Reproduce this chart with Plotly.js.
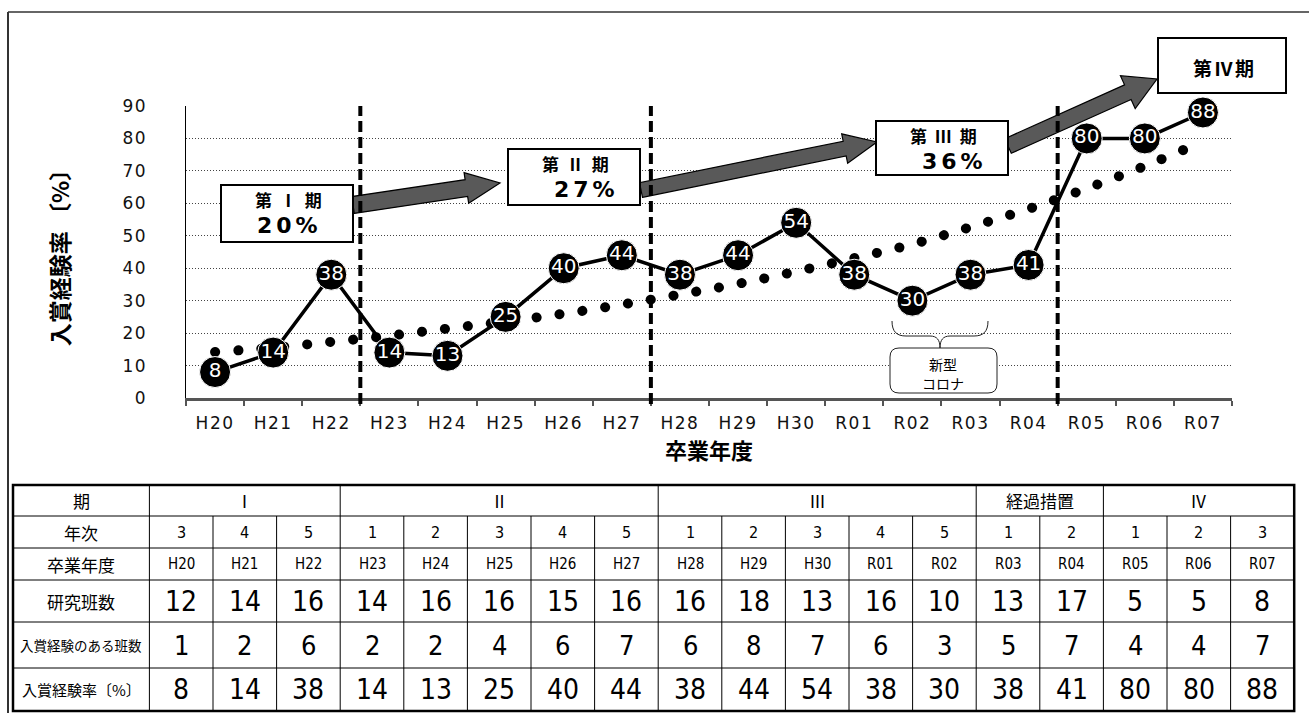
<!DOCTYPE html>
<html><head><meta charset="utf-8">
<script src="https://cdn.plot.ly/plotly-3.0.1.min.js"></script>
<style>
html,body{margin:0;padding:0;background:#fff;}
#chart{width:1309px;height:713px;}
.scatterlayer .trace:first-child path.js-line{stroke-linecap:round;}
.xtick text,.ytick text{letter-spacing:1.5px;}
</style></head><body><div id="chart"></div>
<script>
// ---- data ----
const years = ['H20','H21','H22','H23','H24','H25','H26','H27','H28','H29','H30','R01','R02','R03','R04','R05','R06','R07'];
const rate = [8,14,38,14,13,25,40,44,38,44,54,38,30,38,41,80,80,88];
const trend = [14.2,15.5,17.3,19.2,21.4,23.6,26.0,28.8,31.9,35.2,39.0,43.1,47.4,52.7,58.3,64.6,71.5,79.0];
const gradeYear = [3,4,5,1,2,3,4,5,1,2,3,4,5,1,2,1,2,3];
const teams = [12,14,16,14,16,16,15,16,16,18,13,16,10,13,17,5,5,8];
const awardedTeams = [1,2,6,2,2,4,6,7,6,8,7,6,3,5,7,4,4,7];
const periodNames = ['Ⅰ','Ⅱ','Ⅲ','経過措置','Ⅳ'];
const periodSpans = [3,5,5,2,3];
const periodBoxLabels = ['第 Ⅰ 期','第 Ⅱ 期','第 Ⅲ 期','第Ⅳ期'];
const periodBoxRates = ['20%','27%','36%'];
const rowLabels = ['期','年次','卒業年度','研究班数','入賞経験のある班数','入賞経験率〔%〕'];

// ---- pixel -> paper helpers (layout only) ----
const L=186, R=1232, T=106, B=398;
const fx = p => (p-L)/(R-L);
const fy = p => (B-p)/(B-T);
const P = (x,y) => fx(x)+','+fy(y);

const shapes = [];
const annotations = [];
function seg(x0,y0,x1,y1,w,color,dash){
  shapes.push({type:'line',xref:'paper',yref:'paper',x0:fx(x0),y0:fy(y0),x1:fx(x1),y1:fy(y1),
    line:{width:w,color:color||'#000',dash:dash||'solid'},layer:'above'});
}
function rect(x0,y0,x1,y1,w,fill){
  shapes.push({type:'rect',xref:'paper',yref:'paper',x0:fx(x0),y0:fy(y0),x1:fx(x1),y1:fy(y1),
    line:{width:w,color:'#000'},fillcolor:fill||'rgba(0,0,0,0)',layer:'above'});
}
function txt(x,y,text,size,family,extra){
  annotations.push(Object.assign({xref:'paper',yref:'paper',x:fx(x),y:fy(y),text:text,showarrow:false,
    xanchor:'center',yanchor:'middle',font:{size:size,family:family,color:'#000'}},extra||{}));
}
function arrow(x0,y0,x1,y1,bw,hw,hl){
  const dx=x1-x0, dy=y1-y0, len=Math.hypot(dx,dy);
  const ux=dx/len, uy=dy/len, nx=-uy, ny=ux;
  const bx=x1-ux*hl, by=y1-uy*hl;
  const pts=[[x0+nx*bw/2,y0+ny*bw/2],[bx+nx*bw/2,by+ny*bw/2],[bx+nx*hw/2,by+ny*hw/2],[x1,y1],
             [bx-nx*hw/2,by-ny*hw/2],[bx-nx*bw/2,by-ny*bw/2],[x0-nx*bw/2,y0-ny*bw/2]];
  shapes.push({type:'path',xref:'paper',yref:'paper',path:'M'+pts.map(p=>P(p[0],p[1])).join(' L')+' Z',
    fillcolor:'#595959',line:{color:'#000',width:1.2},layer:'above'});
}

const CJK = 'Noto Sans CJK JP';
const NARROW = 'Liberation Sans Narrow, DejaVu Sans Condensed, Liberation Sans, sans-serif';

// outer frame
seg(8,12,1309,12,1.5,'#333');
seg(8,12,8,713,2,'#333');

// period arrows
arrow(353,205,500,183,17,31,34);
arrow(641,190,877,142,15,30,33);
arrow(1008,146,1157,79,16,36,32);

// period boundary dashed lines (category boundaries)
[2.5,7.5,14.5].forEach(b=>{
  shapes.push({type:'line',xref:'x',yref:'paper',x0:b,x1:b,y0:fy(404),y1:fy(106),
    line:{color:'#000',width:4,dash:'11px,5px'},layer:'above'});
});

// period boxes
const boxes = [[221,185,353,242],[508,149,640,205],[876,121,1008,175]];
boxes.forEach((b,i)=>{
  rect(b[0],b[1],b[2],b[3],2,'#fff');
  const cx=(b[0]+b[2])/2;
  txt(cx+2, b[1]+14, '<b>'+periodBoxLabels[i]+'</b>', 17, CJK);
  txt(cx+(i===0?2:12), b[1]+40, '<b>'+periodBoxRates[i]+'</b>', 22, 'DejaVu Sans');
});
rect(1158,38,1286,93,2,'#fff');
txt(1224,67,'<b>'+periodBoxLabels[3]+'</b>',19,CJK);

// corona brace + rounded box
shapes.push({type:'path',xref:'paper',yref:'paper',line:{color:'#222',width:1},layer:'above',
  path:'M'+P(892,321)+' C'+P(892,332)+' '+P(897,336)+' '+P(906,336)+' L'+P(930,336)+' C'+P(937,336)+' '+P(940,340)+' '+P(940,348)+
       ' C'+P(940,340)+' '+P(943,336)+' '+P(950,336)+' L'+P(974,336)+' C'+P(983,336)+' '+P(988,332)+' '+P(988,321)});
(function(){const x0=890,x1=997,y0=348,y1=393,r=9;
 shapes.push({type:'path',xref:'paper',yref:'paper',line:{color:'#222',width:1},fillcolor:'#fff',layer:'above',
  path:'M'+P(x0+r,y0)+' L'+P(x1-r,y0)+' Q'+P(x1,y0)+' '+P(x1,y0+r)+' L'+P(x1,y1-r)+' Q'+P(x1,y1)+' '+P(x1-r,y1)+
       ' L'+P(x0+r,y1)+' Q'+P(x0,y1)+' '+P(x0,y1-r)+' L'+P(x0,y0+r)+' Q'+P(x0,y0)+' '+P(x0+r,y0)+' Z'});})();
txt(943,364,'新型',14,CJK);
txt(943,383,'コロナ',14,CJK);

// ---- table ----
const rowY = [485,516,548,580,622,668,711];
const tL = 13, c0 = 149.4, cw = 63.6, nC = years.length, tR = c0+cw*nC;
const colX = j => c0 + cw*j;
for(let r=1;r<rowY.length-1;r++) seg(tL,rowY[r],tR,rowY[r],1,'#000');
seg(c0,rowY[0],c0,rowY[6],1,'#000');
let cum=0; const bnds=[];
periodSpans.forEach((s,i)=>{ if(i>0) bnds.push(cum); cum+=s; });
bnds.forEach(j=>seg(colX(j),rowY[0],colX(j),rowY[1],1,'#000'));
for(let j=1;j<nC;j++) seg(colX(j),rowY[1],colX(j),rowY[6],1,'#000');
rect(tL,rowY[0],tR,rowY[6],2.5);
const rc = r => (rowY[r]+rowY[r+1])/2;
const labelSizes=[17,17,17,17,13.5,15];
rowLabels.forEach((t,r)=>txt((tL+c0)/2, rc(r), t, labelSizes[r], CJK));
cum=0;
periodNames.forEach((t,i)=>{ txt((colX(cum)+colX(cum+periodSpans[i]))/2, rc(0), t, 17, CJK); cum+=periodSpans[i]; });
years.forEach((y,j)=>{
  const cx = colX(j)+cw/2;
  txt(cx, rc(1), String(gradeYear[j]), 16, NARROW);
  txt(cx, rc(2), y, 15, NARROW);
  txt(cx, rc(3), String(teams[j]), 28, NARROW);
  txt(cx, rc(4), String(awardedTeams[j]), 27, NARROW);
  txt(cx, rc(5), String(rate[j]), 28, NARROW);
});

// ---- traces ----
const traces = [
  {type:'scatter', mode:'lines', x:years, y:trend, line:{color:'#000', width:10, dash:'0.1px,23px', shape:'spline'},
   hoverinfo:'skip', showlegend:false},
  {type:'scatter', mode:'lines+markers+text', x:years, y:rate, texttemplate:'%{y}', textposition:'middle center',
   textfont:{color:'#fff', size:20, family:'DejaVu Sans'},
   line:{color:'#000', width:3.5}, marker:{color:'#000', size:31, line:{color:'#fff', width:1}},
   cliponaxis:false, showlegend:false}
];

const layout = {
  width:1309, height:713, paper_bgcolor:'#fff', plot_bgcolor:'#fff',
  margin:{l:L, r:1309-R, t:T, b:713-B},
  showlegend:false,
  xaxis:{type:'category', categoryorder:'array', categoryarray:years, range:[-0.5,17.5], autorange:false,
    tickson:'boundaries', ticks:'outside', ticklen:5, tickwidth:2, tickcolor:'#555', showline:true,
    linecolor:'#555', linewidth:2.5, ticklabelstandoff:8,
    showgrid:false, zeroline:false, tickfont:{family:'DejaVu Sans', size:17, color:'#111'},
    title:{text:'<b>卒業年度</b>', font:{family:CJK, size:22, color:'#000'}, standoff:10}},
  yaxis:{range:[0,90], autorange:false, dtick:10, showline:true, linecolor:'#000', linewidth:1.5, showgrid:true,
    gridcolor:'#444', gridwidth:1, griddash:'1px,2px', zeroline:false, ticks:'', ticklabelstandoff:34,
    tickfont:{family:'DejaVu Sans', size:17, color:'#111'},
    title:{text:'<b>入賞経験率 〔%〕</b>', font:{family:CJK, size:23, color:'#000'}, standoff:46}},
  shapes:shapes, annotations:annotations
};

Plotly.newPlot('chart', traces, layout, {staticPlot:true, displayModeBar:false}).then(()=>{
  document.querySelectorAll('.annotation-text').forEach(t=>{
    const s=t.textContent.trim();
    if(/^\d+%$/.test(s)) t.style.letterSpacing='4px';
    else if(/^第/.test(s)) t.style.letterSpacing='2px';
  });
});
</script></body></html>
